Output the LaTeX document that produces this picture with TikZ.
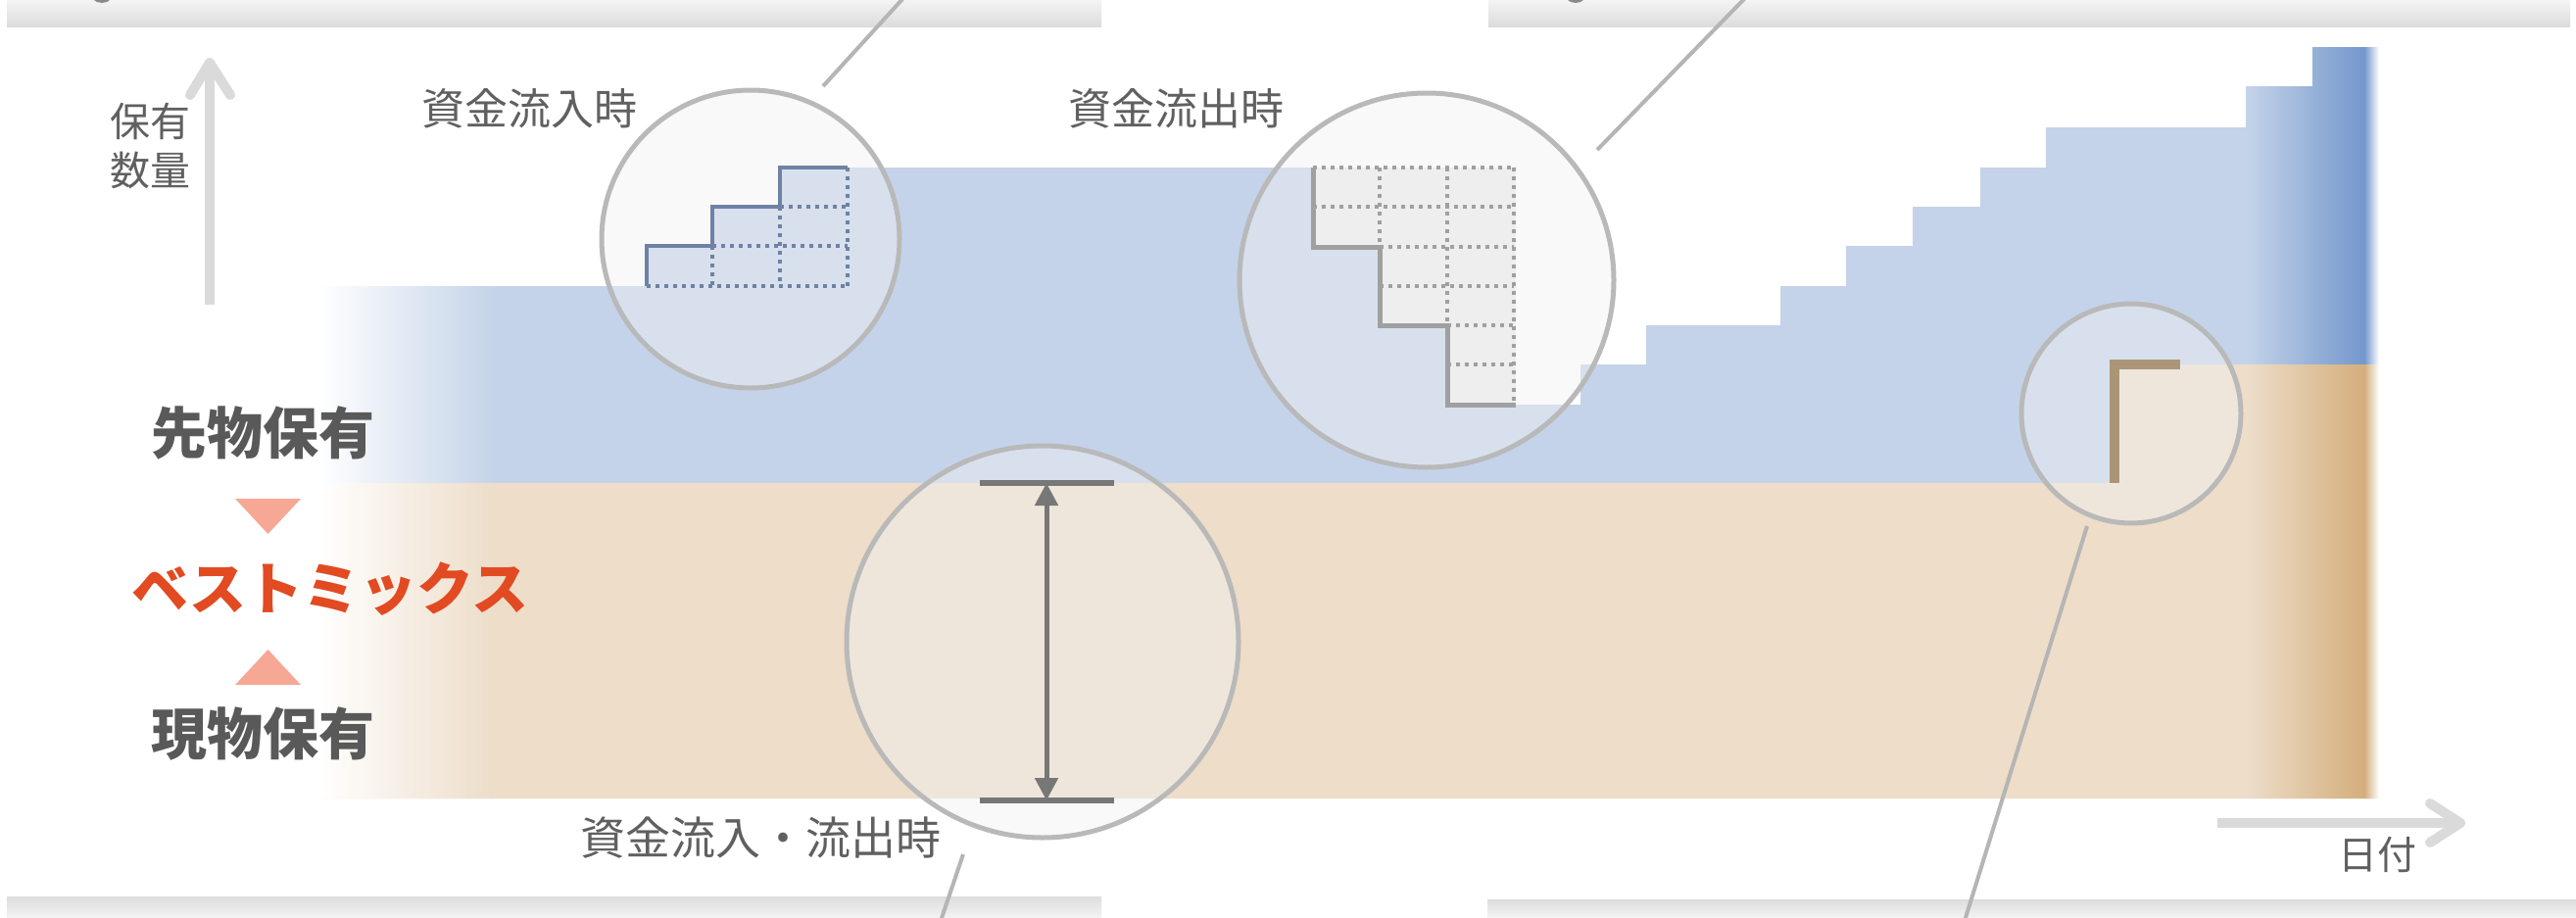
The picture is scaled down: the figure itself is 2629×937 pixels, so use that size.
\documentclass[tikz,border=0pt]{standalone}
\usepackage{fontspec}
\newfontfamily\jp{Noto Sans CJK JP}
\usetikzlibrary{arrows.meta}
\definecolor{blueA}{HTML}{C4D3E9}
\definecolor{blueD}{HTML}{7397CC}
\definecolor{beigeA}{HTML}{EDDDC9}
\definecolor{beigeD}{HTML}{D3AE7C}
\definecolor{barTop}{HTML}{F4F4F4}
\definecolor{barBot}{HTML}{DCDCDC}
\definecolor{axisG}{HTML}{DADADA}
\definecolor{leadG}{HTML}{B5B5B5}
\definecolor{ringG}{HTML}{B9B9B9}
\definecolor{lensF}{HTML}{F2F2F2}
\definecolor{slateL}{HTML}{6F82A4}
\definecolor{stairG}{HTML}{A0A0A0}
\definecolor{cutG}{HTML}{EBEBEB}
\definecolor{dimG}{HTML}{777777}
\definecolor{tanL}{HTML}{AA9677}
\definecolor{txtG}{HTML}{606060}
\definecolor{boldG}{HTML}{595959}
\definecolor{mixR}{HTML}{E24A22}
\definecolor{triS}{HTML}{F7A895}
\definecolor{capG}{HTML}{8A8A8A}
\begin{document}
\begin{tikzpicture}[x=1pt,y=-1pt,
  lead/.style={draw=leadG,line width=4pt},
  lens/.style={fill=lensF,fill opacity=0.45,draw=ringG,draw opacity=1,line width=5pt},
  inflow/.style={draw=slateL,line width=4.5pt},
  inflowdot/.style={draw=slateL,line width=4.5pt,dash pattern=on 4pt off 5pt},
  outflow/.style={draw=stairG,line width=5pt},
  outflowdot/.style={draw=stairG,line width=4.5pt,dash pattern=on 4pt off 5pt},
  axisarrow/.style={draw=axisG,line width=10pt,line join=round},
  smalllbl/.style={text=txtG,inner sep=0pt,align=center,font=\jp\fontsize{44pt}{50pt}\selectfont},
  biglbl/.style={text=boldG,inner sep=0pt,font=\jp\bfseries\fontsize{57pt}{60pt}\selectfont},
  tri/.style={fill=triS}]
\useasboundingbox (0,0) rectangle (2629,937);

% bars at top and bottom
\shade[top color=barTop,bottom color=barBot] (7,0) rectangle (1124,27);
\shade[top color=barTop,bottom color=barBot] (1519,0) rectangle (2623,27);
\shade[top color=barBot,bottom color=barTop] (7,915) rectangle (1124,937);
\shade[top color=barBot,bottom color=barTop] (1518,918) rectangle (2629,937);
\fill[capG] (104,-10) circle[radius=13pt];
\fill[capG] (1608,-10) circle[radius=13pt];

% futures (blue) region
\begin{scope}
\clip (325,292) -- (660,292) -- (660,251) -- (727,251) -- (727,211) -- (796,211) -- (796,171)
 -- (1340,171) -- (1340,252) -- (1408,252) -- (1408,332) -- (1477,332) -- (1477,413)
 -- (1613,413) -- (1613,372) -- (1680,372) -- (1680,332) -- (1817,332) -- (1817,292)
 -- (1884,292) -- (1884,251) -- (1952,251) -- (1952,211) -- (2021,211) -- (2021,171)
 -- (2088,171) -- (2088,130) -- (2292,130) -- (2292,88) -- (2360,88) -- (2360,48)
 -- (2427,48) -- (2427,372) -- (2157,372) -- (2157,493) -- (325,493) -- cycle;
\fill[blueA] (320,40) rectangle (2430,500);
\shade[left color=white,right color=blueA] (324,40) rectangle (505,500);
\shade[left color=blueA,right color=blueD] (2293,40) rectangle (2414,500);
\shade[left color=blueD,right color=white] (2413,40) rectangle (2428,500);
\end{scope}

% cash (beige) region
\begin{scope}
\clip (325,493) -- (2157,493) -- (2157,372) -- (2427,372) -- (2427,815) -- (325,815) -- cycle;
\fill[beigeA] (320,360) rectangle (2430,820);
\shade[left color=white,right color=beigeA] (324,360) rectangle (505,820);
\shade[left color=beigeA,right color=beigeD] (2293,360) rectangle (2414,820);
\shade[left color=beigeD,right color=white] (2413,360) rectangle (2428,820);
\end{scope}

% removed part of the outflow staircase
\fill[cutG] (1340,171) -- (1547,171) -- (1547,413) -- (1477,413) -- (1477,332) -- (1408,332)
 -- (1408,252) -- (1340,252) -- cycle;

% axes
\draw[axisarrow] (214,311) -- (214,64);
\draw[axisarrow,line cap=round] (194,97) -- (214,64) -- (235,97);
\draw[axisarrow] (2263,840) -- (2510,840);
\draw[axisarrow,line cap=round] (2480,820) -- (2511,840) -- (2480,860);

% lenses
\path[lens] (766,244) circle[radius=152pt];
\path[lens] (1456,286) circle[radius=191pt];
\path[lens] (1064,655) circle[radius=200pt];
\path[lens] (2175,422) circle[radius=112pt];
\coordinate (lensA) at (766,244);
\coordinate (lensB) at (1456,286);
\coordinate (lensC) at (1064,655);
\coordinate (lensD) at (2175,422);

% inflow staircase (lens A)
\draw[inflowdot] (660,292) -- (865,292);
\draw[inflowdot] (865,171) -- (865,292);
\draw[inflowdot] (727,251) -- (865,251);
\draw[inflowdot] (796,211) -- (865,211);
\draw[inflowdot] (727,251) -- (727,292);
\draw[inflowdot] (796,211) -- (796,292);
\draw[inflow] (660,292) -- (660,251) -- (727,251) -- (727,211) -- (796,211) -- (796,171) -- (865,171);

% outflow staircase (lens B)
\draw[outflowdot] (1340,171) -- (1547,171);
\draw[outflowdot] (1545,171) -- (1545,413);
\draw[outflowdot] (1340,211) -- (1545,211);
\draw[outflowdot] (1408,252) -- (1545,252);
\draw[outflowdot] (1408,292) -- (1545,292);
\draw[outflowdot] (1477,332) -- (1545,332);
\draw[outflowdot] (1477,372) -- (1545,372);
\draw[outflowdot] (1408,171) -- (1408,252);
\draw[outflowdot] (1477,171) -- (1477,332);
\draw[outflow] (1340,171) -- (1340,252) -- (1408,252) -- (1408,332) -- (1477,332) -- (1477,413) -- (1547,413);

% range (lens C)
\coordinate (rTop) at (1068,493);
\coordinate (rBot) at (1068,817);
\draw[draw=dimG,line width=6pt] (1000,493) -- (1137,493);
\draw[draw=dimG,line width=6pt] (1000,817) -- (1137,817);
\draw[draw=dimG,line width=5pt,{Triangle[length=23pt,width=23pt]}-{Triangle[length=23pt,width=23pt]}] (rTop) -- (rBot);

% corner (lens D)
\draw[draw=tanL,line width=10pt] (2158,493) -- (2158,372) -- (2225,372);

% leader lines
\coordinate (l1a) at (840,88);
\coordinate (l1b) at (922,-2);
\coordinate (l2a) at (1630,153);
\coordinate (l2b) at (1781,-2);
\coordinate (l3a) at (983,872);
\coordinate (l3b) at (960,940);
\coordinate (l4a) at (2130,537);
\coordinate (l4b) at (2005,940);
\draw[lead] (l1a) -- (l1b);
\draw[lead] (l2a) -- (l2b);
\draw[lead] (l3a) -- (l3b);
\draw[lead] (l4a) -- (l4b);

% labels
\node[smalllbl,font=\jp\fontsize{41pt}{50pt}\selectfont] (qty) at (153,149) {保有\\数量};
\node[smalllbl] (inlbl) at (540,111) {資金流入時};
\node[smalllbl] (outlbl) at (1200,111) {資金流出時};
\node[smalllbl,font=\jp\fontsize{46pt}{50pt}\selectfont] (bothlbl) at (776,855) {資金流入・流出時};
\node[smalllbl,font=\jp\fontsize{40pt}{50pt}\selectfont] (datelbl) at (2426,872) {日付};
\node[biglbl] (fut) at (268,442) {先物保有};
\node[biglbl] (cash) at (268,749) {現物保有};
\node[biglbl,text=mixR,font=\jp\bfseries\fontsize{58pt}{60pt}\selectfont] (mix) at (337,601) {ベストミックス};
\fill[tri] (240,509) -- (307,509) -- (273.5,545) -- cycle;
\fill[tri] (240,699) -- (307,699) -- (273.5,663) -- cycle;
\end{tikzpicture}
\end{document}
